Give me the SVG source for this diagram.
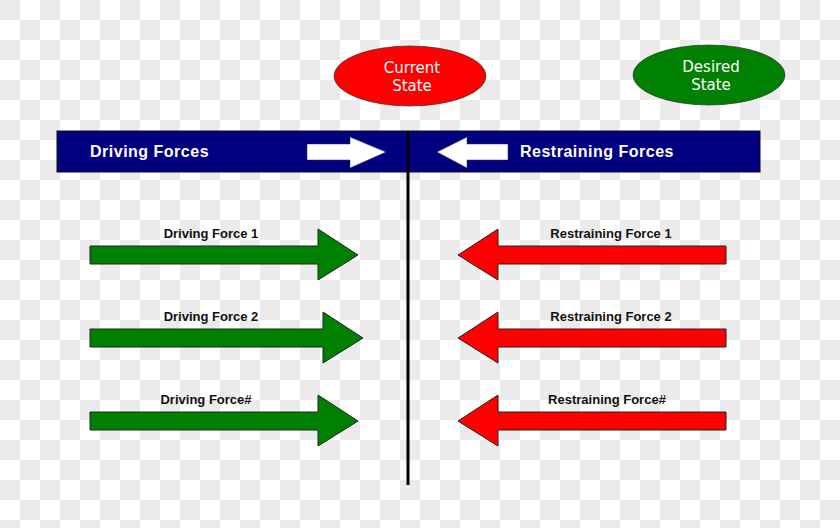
<svg xmlns="http://www.w3.org/2000/svg" width="840" height="528" viewBox="0 0 840 528">
<defs>
<pattern id="chk" width="40" height="40" patternUnits="userSpaceOnUse">
<rect width="40" height="40" fill="#ffffff"/>
<rect width="20" height="20" fill="#ebebeb"/>
<rect x="20" y="20" width="20" height="20" fill="#ebebeb"/>
</pattern>
<style>
.lbl{font-family:"Liberation Sans",Arial,sans-serif;font-weight:bold;font-size:13px;fill:#111;text-anchor:middle}
.ban{font-family:"Liberation Sans",Arial,sans-serif;font-weight:bold;font-size:16px;fill:#fff;letter-spacing:0.5px}
.st{font-family:"DejaVu Sans",sans-serif;font-size:15px;fill:#fff;text-anchor:middle}
.g{fill:#008000;stroke:#222;stroke-width:1}
.r{fill:#ff0000;stroke:#222;stroke-width:1}
.w{fill:#fff;stroke:#333;stroke-width:0.5}
</style>
</defs>
<rect width="840" height="528" fill="url(#chk)"/>
<g id="banner">
<rect x="57" y="131" width="703" height="41" fill="#000080" stroke="#111" stroke-width="1"/>
<text class="ban" x="90" y="157">Driving Forces</text>
<text class="ban" x="520" y="157">Restraining Forces</text>
<polygon class="w" points="307,144 350,144 350,137 386,152 350,168 350,160 307,160"/>
<polygon class="w" points="508,144 467,144 467,137 437,152 467,168 467,160 508,160"/>
</g>
<g id="connectors">
<line x1="408" y1="131" x2="408" y2="485" stroke="#000" stroke-width="3"/>
</g>
<g id="current-state">
<ellipse cx="410" cy="76" rx="76" ry="30" fill="#ff0000" stroke="#333" stroke-width="0.7"/>
<text class="st" x="412" y="73">Current</text>
<text class="st" x="412" y="91">State</text>
</g>
<g id="desired-state">
<ellipse cx="709" cy="75" rx="76" ry="30" fill="#008000" stroke="#333" stroke-width="0.7"/>
<text class="st" x="711" y="72">Desired</text>
<text class="st" x="711" y="90">State</text>
</g>
<g id="driving-1">
<polygon class="g" points="90,246 318,246 318,229 358,255 318,280 318,264 90,264"/>
<text class="lbl" x="211" y="238">Driving Force 1</text>
</g>
<g id="driving-2">
<polygon class="g" points="90,329 323,329 323,312 363,338 323,363 323,347 90,347"/>
<text class="lbl" x="211" y="321">Driving Force 2</text>
</g>
<g id="driving-n">
<polygon class="g" points="90,412 318,412 318,395 358,421 318,446 318,430 90,430"/>
<text class="lbl" x="206" y="404">Driving Force#</text>
</g>
<g id="restraining-1">
<polygon class="r" points="726,246 498,246 498,229 458,255 498,280 498,264 726,264"/>
<text class="lbl" x="611" y="238">Restraining Force 1</text>
</g>
<g id="restraining-2">
<polygon class="r" points="726,329 498,329 498,312 458,338 498,363 498,347 726,347"/>
<text class="lbl" x="611" y="321">Restraining Force 2</text>
</g>
<g id="restraining-n">
<polygon class="r" points="726,412 498,412 498,395 458,421 498,446 498,430 726,430"/>
<text class="lbl" x="607" y="404">Restraining Force#</text>
</g>
</svg>
